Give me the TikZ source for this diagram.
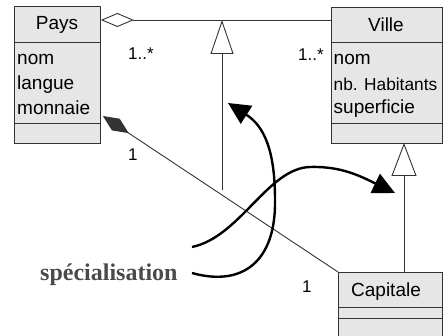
\documentclass[tikz,border=0pt]{standalone}
\usepackage{fontspec}
\setmainfont{Liberation Sans}
\newfontfamily\serifb{Liberation Serif}
\usetikzlibrary{arrows.meta,calc}
\definecolor{boxgray}{HTML}{E6E6E6}
\definecolor{linegray}{HTML}{333333}
\definecolor{labgray}{HTML}{4A4A4A}
\begin{document}
\begin{tikzpicture}[x=1pt,y=-1pt,
  classbox/.style={draw=linegray,fill=boxgray,line width=0.9pt,inner sep=0pt,anchor=north west},
  sepline/.style={draw=linegray,line width=0.9pt},
  title/.style={anchor=base,inner sep=0pt,font=\fontsize{19}{22}\selectfont},
  attr/.style={anchor=base west,inner sep=0pt,font=\fontsize{19}{22}\selectfont},
  mult/.style={anchor=base west,inner sep=0pt,font=\fontsize{17}{20}\selectfont},
  conn/.style={draw=linegray,line width=0.9pt},
  curvearrow/.style={line width=2.4pt,-{Triangle[length=22pt,width=21pt]}},
]
\useasboundingbox (0,0) rectangle (443,336);

% classes
\node[classbox,minimum width=86pt,minimum height=137pt] (pays) at (14,6) {};
\draw[sepline] (14,42) -- (100,42) (14,123) -- (100,123);
\node[title] (paystitle) at (57,30) {Pays};
\node[attr] (paysnom) at (17,65) {nom};
\node[attr] (payslangue) at (17,90) {langue};
\node[attr] (paysmonnaie) at (17,115) {monnaie};

\node[classbox,minimum width=110.5pt,minimum height=136pt] (ville) at (331,7) {};
\draw[sepline] (331,42) -- (441.5,42) (331,123) -- (441.5,123);
\node[title] (villetitle) at (386,32) {Ville};
\node[attr] (villenom) at (333.5,65) {nom};
\node[attr,font=\fontsize{17.3}{20}\selectfont] (villehab) at (333.5,91) {nb. Habitants};
\node[attr] (villesup) at (333.5,114) {superficie};

\node[classbox,minimum width=103.5pt,minimum height=68pt] (capitale) at (338,272) {};
\draw[sepline] (338,307) -- (441.5,307) (338,318) -- (441.5,318);
\node[title] (capitaletitle) at (386,296) {Capitale};

% connector end points
\coordinate (aggP) at ($(pays.north east)+(0,14)$);
\coordinate (aggV) at ($(ville.north west)+(0,13)$);
\coordinate (compP) at ($(pays.north east)+(2,110)$);
\coordinate (genTop) at (222,20);
\coordinate (genBot) at (222,190);
\coordinate (vgTop) at (404,143);
\coordinate (vgBot) at (404,272);

% aggregation
\draw[conn,{Diamond[length=33pt,width=14pt,fill=white]}-] (aggP) -- (aggV);
% composition
\draw[conn,{Diamond[length=31pt,width=14pt,fill=linegray]}-] (compP) -- (capitale.north west);
% generalizations
\draw[conn,-{Triangle[length=34pt,width=23pt,fill=white]}] (genBot) -- (genTop);
\draw[conn,-{Triangle[length=33pt,width=25pt,fill=white]}] (vgBot) -- (vgTop);

% multiplicities
\node[mult] (m1) at (128,60) {1..*};
\node[mult] (m2) at (298,61) {1..*};
\node[mult] (m3) at (128,161) {1};
\node[mult] (m4) at (302,292) {1};

% label and curved arrows
\node[anchor=base west,inner sep=0pt,text=labgray,font=\serifb\bfseries\fontsize{24}{28}\selectfont] (spec) at (40,280) {spécialisation};
\coordinate (sA) at (192,247);
\coordinate (sB) at (192,273);
\coordinate (tA) at (395,193);
\coordinate (tB) at (228,103);
\draw[curvearrow] (sA) .. controls (240,237) and (268,168) .. (310,167)
  .. controls (342,166) and (362,177) .. (tA);
\draw[curvearrow] (sB) .. controls (242,287) and (276,262) .. (275,200)
  .. controls (275,150) and (264,126) .. (tB);
\end{tikzpicture}
\end{document}
